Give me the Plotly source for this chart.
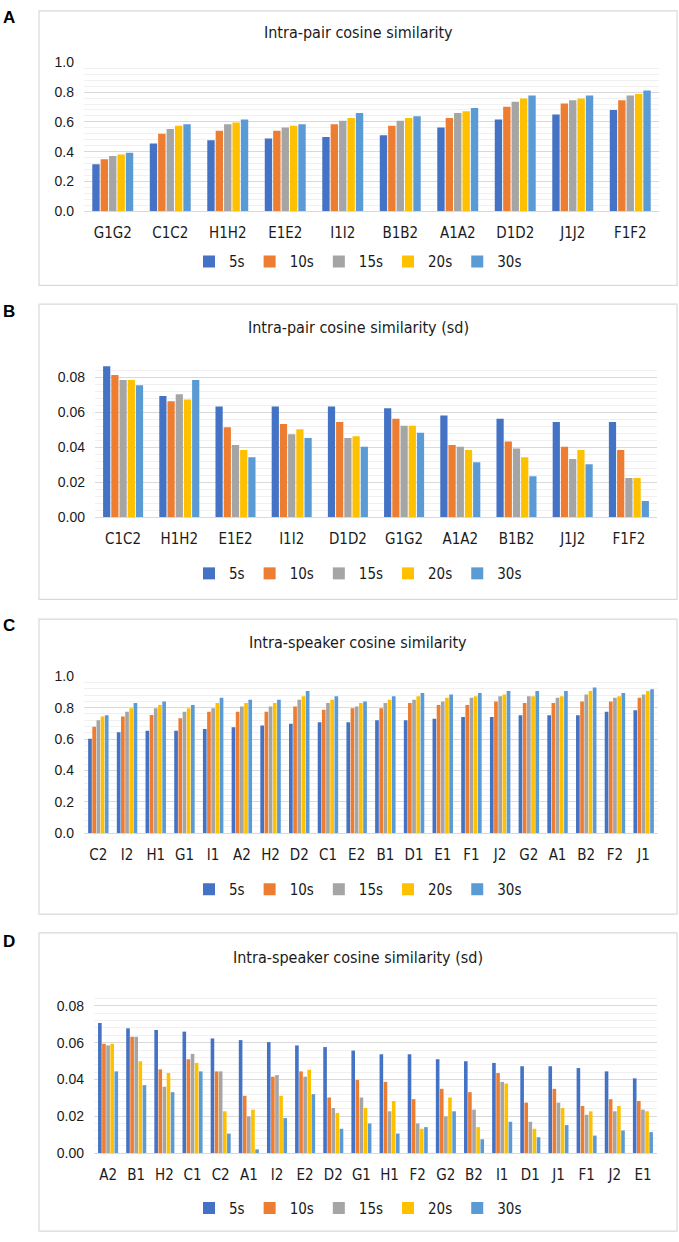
import plotly.graph_objects as go

W, H = 679, 1242
series = ["5s", "10s", "15s", "20s", "30s"]
colors = ["#4472C4", "#ED7D31", "#A5A5A5", "#FFC000", "#5B9BD5"]

# Panel A
a_cats = ["G1G2", "C1C2", "H1H2", "E1E2", "I1I2", "B1B2", "A1A2", "D1D2", "J1J2", "F1F2"]
a_5s = [0.316, 0.455, 0.477, 0.488, 0.499, 0.510, 0.563, 0.616, 0.649, 0.680]
a_10s = [0.349, 0.521, 0.541, 0.541, 0.585, 0.574, 0.627, 0.702, 0.724, 0.746]
a_15s = [0.371, 0.552, 0.585, 0.563, 0.607, 0.607, 0.660, 0.735, 0.746, 0.777]
a_20s = [0.382, 0.574, 0.596, 0.574, 0.627, 0.627, 0.671, 0.757, 0.757, 0.788]
a_30s = [0.393, 0.585, 0.616, 0.585, 0.660, 0.638, 0.693, 0.777, 0.777, 0.810]

# Panel B
b_cats = ["C1C2", "H1H2", "E1E2", "I1I2", "D1D2", "G1G2", "A1A2", "B1B2", "J1J2", "F1F2"]
b_5s = [0.0864, 0.0693, 0.0633, 0.0633, 0.0633, 0.0623, 0.0582, 0.0563, 0.0545, 0.0545]
b_10s = [0.0813, 0.0663, 0.0515, 0.0533, 0.0545, 0.0563, 0.0413, 0.0434, 0.0404, 0.0385]
b_15s = [0.0785, 0.0704, 0.0413, 0.0475, 0.0454, 0.0524, 0.0404, 0.0394, 0.0334, 0.0225]
b_20s = [0.0785, 0.0674, 0.0385, 0.0503, 0.0464, 0.0524, 0.0385, 0.0344, 0.0385, 0.0225]
b_30s = [0.0755, 0.0785, 0.0344, 0.0454, 0.0404, 0.0484, 0.0315, 0.0235, 0.0304, 0.0094]

# Panel C
c_cats = ["C2", "I2", "H1", "G1", "I1", "A2", "H2", "D2", "C1", "E2",
          "B1", "D1", "E1", "F1", "J2", "G2", "A1", "B2", "F2", "J1"]
c_5s = [0.602, 0.643, 0.653, 0.653, 0.664, 0.676, 0.687, 0.697, 0.707, 0.707,
        0.720, 0.720, 0.730, 0.741, 0.741, 0.751, 0.751, 0.751, 0.774, 0.784]
c_10s = [0.678, 0.743, 0.753, 0.732, 0.774, 0.774, 0.774, 0.807, 0.786, 0.797,
         0.797, 0.830, 0.817, 0.817, 0.840, 0.830, 0.830, 0.840, 0.840, 0.863]
c_15s = [0.720, 0.774, 0.797, 0.774, 0.797, 0.807, 0.807, 0.851, 0.830, 0.807,
         0.830, 0.851, 0.840, 0.863, 0.873, 0.873, 0.863, 0.884, 0.863, 0.884]
c_20s = [0.743, 0.797, 0.817, 0.797, 0.830, 0.830, 0.830, 0.873, 0.851, 0.830,
         0.851, 0.873, 0.863, 0.873, 0.884, 0.873, 0.873, 0.907, 0.873, 0.907]
c_30s = [0.751, 0.830, 0.840, 0.817, 0.863, 0.851, 0.851, 0.907, 0.873, 0.840,
         0.873, 0.894, 0.884, 0.894, 0.907, 0.907, 0.907, 0.929, 0.894, 0.917]

# Panel D
d_cats = ["A2", "B1", "H2", "C1", "C2", "A1", "I2", "E2", "D2", "G1",
          "H1", "F2", "G2", "B2", "I1", "D1", "J1", "F1", "J2", "E1"]
d_5s = [0.0707, 0.0678, 0.0669, 0.0660, 0.0623, 0.0614, 0.0603, 0.0585, 0.0576, 0.0557,
        0.0537, 0.0537, 0.0510, 0.0499, 0.0490, 0.0472, 0.0472, 0.0462, 0.0444, 0.0406]
d_10s = [0.0594, 0.0632, 0.0455, 0.0510, 0.0444, 0.0311, 0.0415, 0.0444, 0.0302, 0.0397,
         0.0387, 0.0293, 0.0349, 0.0331, 0.0435, 0.0274, 0.0349, 0.0256, 0.0293, 0.0283]
d_15s = [0.0585, 0.0632, 0.0360, 0.0539, 0.0444, 0.0199, 0.0424, 0.0415, 0.0245, 0.0302,
         0.0227, 0.0161, 0.0199, 0.0236, 0.0387, 0.0170, 0.0274, 0.0208, 0.0227, 0.0236]
d_20s = [0.0594, 0.0499, 0.0435, 0.0490, 0.0227, 0.0236, 0.0311, 0.0453, 0.0218, 0.0245,
         0.0283, 0.0132, 0.0302, 0.0141, 0.0378, 0.0132, 0.0245, 0.0227, 0.0256, 0.0227]
d_30s = [0.0444, 0.0369, 0.0331, 0.0444, 0.0106, 0.0020, 0.0190, 0.0320, 0.0132, 0.0161,
         0.0106, 0.0141, 0.0227, 0.0075, 0.0170, 0.0086, 0.0152, 0.0095, 0.0123, 0.0114]

titles = ["Intra-pair cosine similarity", "Intra-pair cosine similarity (sd)",
          "Intra-speaker cosine similarity", "Intra-speaker cosine similarity (sd)"]
letters = ["A", "B", "C", "D"]

panels = [
    dict(cats=a_cats, vals=[a_5s, a_10s, a_15s, a_20s, a_30s], rng=[0, 1.0], dt=0.2, mdt=0.04, fmt=".1f",
         box=(39, 3, 677, 281), plot=(84, 55, 659, 206), title_y=25, legend_y=257, letter_y=10),
    dict(cats=b_cats, vals=[b_5s, b_10s, b_15s, b_20s, b_30s], rng=[0, 0.088], dt=0.02, mdt=0.004, fmt=".2f",
         box=(39, 300, 677, 599), plot=(95, 360, 657, 516), title_y=324, legend_y=573, letter_y=307),
    dict(cats=c_cats, vals=[c_5s, c_10s, c_15s, c_20s, c_30s], rng=[0, 1.0], dt=0.2, mdt=0.04, fmt=".1f",
         box=(39, 619, 677, 918), plot=(84, 677, 658, 836), title_y=643, legend_y=893, letter_y=626),
    dict(cats=d_cats, vals=[d_5s, d_10s, d_15s, d_20s, d_30s], rng=[0, 0.088], dt=0.02, mdt=0.004, fmt=".2f",
         box=(39, 937, 677, 1239), plot=(94, 996, 657, 1160), title_y=962, legend_y=1216, letter_y=946),
]

def px(x):
    return x / W

def py(y):
    return 1 - y / H

cat_font = "Liberation Sans Narrow, DejaVu Sans Condensed, Arial Narrow, sans-serif"
num_font = "Liberation Sans, Arial, sans-serif"
txt_color = "#1a1a1a"

fig = go.Figure()
layout = dict(width=W, height=H, margin=dict(l=0, r=0, t=0, b=0),
              plot_bgcolor="white", paper_bgcolor="white",
              barmode="group", bargap=0.27, bargroupgap=0.12,
              showlegend=True)
annotations = []
shapes = []

for i, p in enumerate(panels):
    n = "" if i == 0 else str(i + 1)
    xa, ya = "x" + n, "y" + n
    lg = "legend" + n
    for s, name in enumerate(series):
        fig.add_trace(go.Bar(x=p["cats"], y=p["vals"][s], name=name,
                             marker=dict(color=colors[s], line=dict(width=0)),
                             xaxis=xa, yaxis=ya, legend=lg,
                             hoverinfo="skip"))
    x0, y0, x1, y1 = p["plot"]
    layout["xaxis" + n] = dict(domain=[px(x0), px(x1)], anchor=ya, showgrid=False,
                               showline=True, linecolor="#D9D9D9", linewidth=1,
                               ticks="", ticklabelstandoff=8,
                               tickfont=dict(family=cat_font, size=15, color=txt_color),
                               fixedrange=True, tickangle=0)
    layout["yaxis" + n] = dict(domain=[py(y1), py(y0)], anchor=xa, range=p["rng"],
                               dtick=p["dt"], tick0=0, tickformat=p["fmt"],
                               showgrid=True, gridcolor="#D9D9D9", gridwidth=1,
                               zeroline=False, showline=False, ticks="",
                               ticklabelstandoff=9,
                               minor=dict(dtick=p["mdt"], tick0=0, showgrid=True,
                                          gridcolor="#F0F0F0", gridwidth=1),
                               tickfont=dict(family=num_font, size=14, color=txt_color),
                               fixedrange=True)
    bx0, by0, bx1, by1 = p["box"]
    cx = (bx0 + bx1) / 2
    layout[lg] = dict(orientation="h", x=px(cx), xanchor="center", y=py(p["legend_y"]),
                      yanchor="middle", font=dict(family=cat_font, size=15, color=txt_color),
                      bgcolor="rgba(0,0,0,0)", itemwidth=30, traceorder="normal",
                      itemclick=False, itemdoubleclick=False)
    shapes.append(dict(type="rect", xref="paper", yref="paper",
                       x0=px(bx0), x1=px(bx1), y0=py(by1), y1=py(by0),
                       line=dict(color="#D9D9D9", width=1.2), fillcolor="rgba(0,0,0,0)",
                       layer="below"))
    annotations.append(dict(text=titles[i], xref="paper", yref="paper",
                            x=px(cx), y=py(p["title_y"]), xanchor="center", yanchor="middle",
                            showarrow=False,
                            font=dict(family=cat_font, size=16, color=txt_color)))
    annotations.append(dict(text="<b>" + letters[i] + "</b>", xref="paper", yref="paper",
                            x=px(1), y=py(p["letter_y"]), xanchor="left", yanchor="middle",
                            showarrow=False,
                            font=dict(family=num_font, size=17, color="#000000")))

layout["annotations"] = annotations
layout["shapes"] = shapes
fig.update_layout(**layout)
fig.write_html("out.html", config={"displayModeBar": False, "staticPlot": True})
